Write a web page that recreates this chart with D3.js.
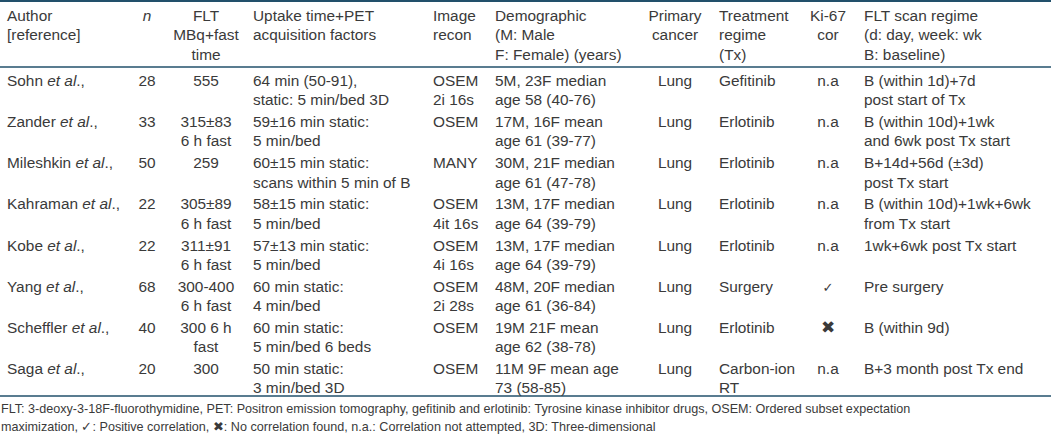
<!DOCTYPE html>
<html>
<head>
<meta charset="utf-8">
<script src="https://cdn.jsdelivr.net/npm/d3@7"></script>
<style>
  body { margin: 0; background: #fff; }
  svg text { font-family: "Liberation Sans", Arial, sans-serif; fill: #3a3a3a; }
</style>
</head>
<body>
<svg id="table"></svg>
<script>
/* Table data, one array per column */
var authors = ["Sohn", "Zander", "Mileshkin", "Kahraman", "Kobe", "Yang", "Scheffler", "Saga"];
var nValues = ["28", "33", "50", "22", "22", "68", "40", "20"];
var fltDose = [["555"], ["315±83", "6 h fast"], ["259"], ["305±89", "6 h fast"],
               ["311±91", "6 h fast"], ["300-400", "6 h fast"], ["300 6 h", "fast"], ["300"]];
var uptake = [["64 min (50-91),", "static: 5 min/bed 3D"], ["59±16 min static:", "5 min/bed"],
              ["60±15 min static:", "scans within 5 min of B"], ["58±15 min static:", "5 min/bed"],
              ["57±13 min static:", "5 min/bed"], ["60 min static:", "4 min/bed"],
              ["60 min static:", "5 min/bed 6 beds"], ["50 min static:", "3 min/bed 3D"]];
var recon = [["OSEM", "2i 16s"], ["OSEM"], ["MANY"], ["OSEM", "4it 16s"],
             ["OSEM", "4i 16s"], ["OSEM", "2i 28s"], ["OSEM"], ["OSEM"]];
var demographic = [["5M, 23F median", "age 58 (40-76)"], ["17M, 16F mean", "age 61 (39-77)"],
                   ["30M, 21F median", "age 61 (47-78)"], ["13M, 17F median", "age 64 (39-79)"],
                   ["13M, 17F median", "age 64 (39-79)"], ["48M, 20F median", "age 61 (36-84)"],
                   ["19M 21F mean", "age 62 (38-78)"], ["11M 9F mean age", "73 (58-85)"]];
var cancer = ["Lung", "Lung", "Lung", "Lung", "Lung", "Lung", "Lung", "Lung"];
var treatment = [["Gefitinib"], ["Erlotinib"], ["Erlotinib"], ["Erlotinib"], ["Erlotinib"],
                 ["Surgery"], ["Erlotinib"], ["Carbon-ion", "RT"]];
var ki67 = ["n.a", "n.a", "n.a", "n.a", "n.a", "✓", "✖", "n.a"];
var regime = [["B (within 1d)+7d", "post start of Tx"], ["B (within 10d)+1wk", "and 6wk post Tx start"],
              ["B+14d+56d (±3d)", "post Tx start"], ["B (within 10d)+1wk+6wk", "from Tx start"],
              ["1wk+6wk post Tx start"], ["Pre surgery"], ["B (within 9d)"], ["B+3 month post Tx end"]];

var headers = [["Author", "[reference]"], ["n"], ["FLT", "MBq+fast", "time"],
               ["Uptake time+PET", "acquisition factors"], ["Image", "recon"],
               ["Demographic", "(M: Male", "F: Female) (years)"], ["Primary", "cancer"],
               ["Treatment", "regime", "(Tx)"], ["Ki-67", "cor"],
               ["FLT scan regime", "(d: day, week: wk", "B: baseline)"]];

var footnote = ["FLT: 3-deoxy-3-18F-fluorothymidine, PET: Positron emission tomography, gefitinib and erlotinib: Tyrosine kinase inhibitor drugs, OSEM: Ordered subset expectation",
                "maximization, ✓: Positive correlation, ✖: No correlation found, n.a.: Correlation not attempted, 3D: Three-dimensional"];

/* Settings */
var set = {
  width: 1051,
  height: 436,
  fontSize: 15.4,
  lineGap: 19.3,
  ruleColor: "#22506b",
  headTop: 1,
  headBottom: 67,
  bodyBottom: 396
};

/* Column positions: x, text-anchor */
var columns = [
  { x: 7,   anchor: "start" },
  { x: 147, anchor: "middle" },
  { x: 206, anchor: "middle" },
  { x: 253, anchor: "start" },
  { x: 433, anchor: "start" },
  { x: 495, anchor: "start" },
  { x: 675, anchor: "middle" },
  { x: 719, anchor: "start" },
  { x: 828, anchor: "middle" },
  { x: 864, anchor: "start" }
];

var svg = d3.select("#table")
  .attr("width", set.width)
  .attr("height", set.height);

/* Row scale */
var y = d3.scaleBand()
  .domain(d3.range(authors.length))
  .range([set.headBottom, set.bodyBottom]);

/* Rules */
svg.selectAll("line.rule")
  .data([set.headTop, set.headBottom, set.bodyBottom])
  .enter()
  .append("line")
  .attr("class", "rule")
  .attr("x1", 0)
  .attr("x2", set.width)
  .attr("y1", d => d)
  .attr("y2", d => d)
  .attr("stroke", set.ruleColor)
  .attr("stroke-width", (d, i) => i === 0 ? 2 : 1.3);

/* Header */
var head = svg.append("g").attr("class", "head");
headers.forEach(function (lines, c) {
  var t = head.append("text")
    .attr("x", columns[c].x)
    .attr("text-anchor", columns[c].anchor)
    .style("font-size", set.fontSize + "px")
    .style("font-style", c === 1 ? "italic" : "normal");
  t.selectAll("tspan")
    .data(lines)
    .enter()
    .append("tspan")
    .attr("x", columns[c].x)
    .attr("y", (d, i) => 21 + i * set.lineGap)
    .text(d => d);
});

/* Body cells: column -> lines for row */
var cellData = [
  null,
  i => [nValues[i]],
  i => fltDose[i],
  i => uptake[i],
  i => recon[i],
  i => demographic[i],
  i => [cancer[i]],
  i => treatment[i],
  i => [ki67[i]],
  i => regime[i]
];

var body = svg.append("g").attr("class", "body");

authors.forEach(function (name, r) {
  var base = y(r) + 19;

  /* author with italic et al. */
  var a = body.append("text")
    .attr("x", columns[0].x)
    .attr("y", base)
    .style("font-size", set.fontSize + "px");
  a.append("tspan").text(name + " ");
  a.append("tspan").style("font-style", "italic").text("et al");
  a.append("tspan").text(".,");

  for (var c = 1; c < columns.length; c++) {
    var lines = cellData[c](r);
    var t = body.append("text")
      .attr("text-anchor", columns[c].anchor)
      .style("font-size", set.fontSize + "px");
    t.selectAll("tspan")
      .data(lines)
      .enter()
      .append("tspan")
      .attr("x", columns[c].x)
      .attr("y", (d, i) => base + i * set.lineGap)
      .style("font-size", d => d === "✓" ? "13px" : d === "✖" ? "17px" : null)
      .style("font-family", d => (d === "✓" || d === "✖") ? "DejaVu Sans" : null)
      .text(d => d);
  }
});

/* Footnote */
svg.append("text")
  .attr("class", "note")
  .style("font-size", "12.6px")
  .selectAll("tspan")
  .data(footnote)
  .enter()
  .append("tspan")
  .attr("x", 1)
  .attr("y", (d, i) => 413 + i * 18)
  .text(d => d);
</script>
</body>
</html>
